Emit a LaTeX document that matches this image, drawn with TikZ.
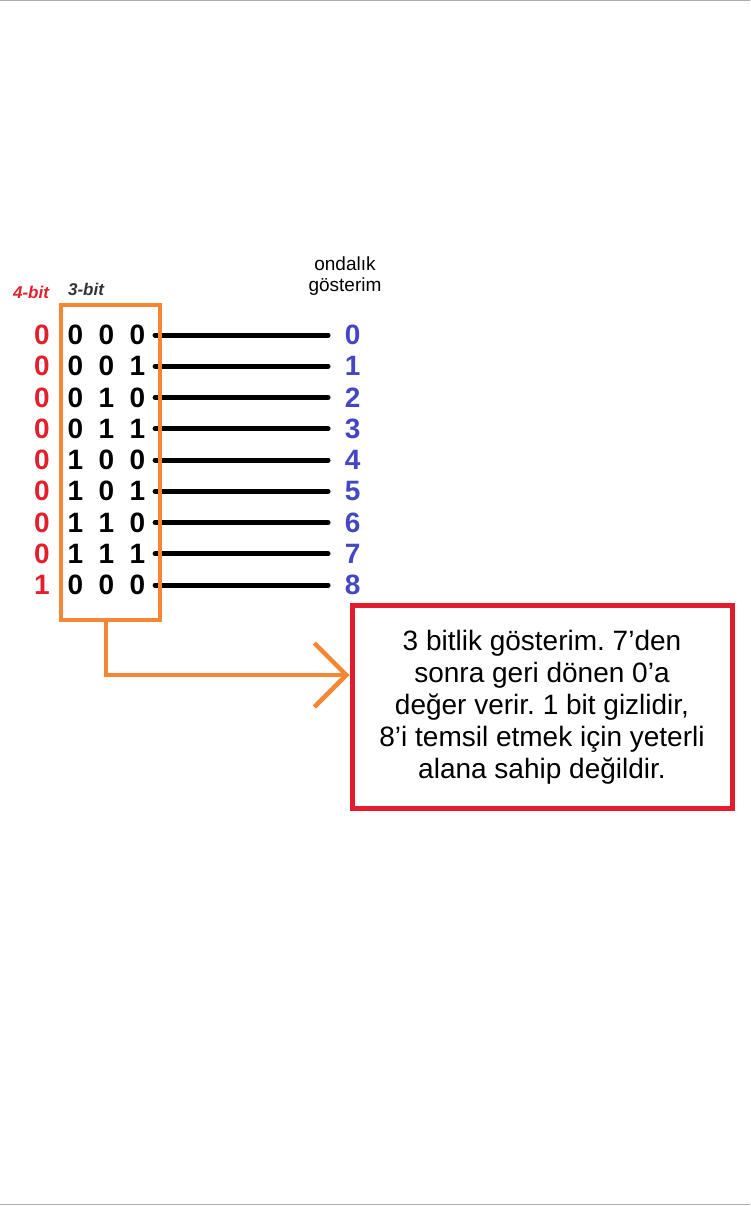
\documentclass[tikz,border=0pt]{standalone}
\usepackage{fontspec}
\setmainfont{Liberation Sans}
\usetikzlibrary{arrows.meta,positioning}

\definecolor{bitred}{RGB}{226,32,44}
\definecolor{decblue}{RGB}{68,70,196}
\definecolor{winorange}{RGB}{245,134,52}
\definecolor{noteedge}{RGB}{226,28,44}
\newcommand{\bits}[3]{\makebox[31pt]{#1}\makebox[31pt]{#2}\makebox[31pt]{#3}}

\begin{document}
\begin{tikzpicture}[x=1pt, y=-1pt,
        msb/.style={text=bitred, font=\fontsize{28}{28}\selectfont\bfseries, inner sep=0pt},
        low/.style={font=\fontsize{28}{28}\selectfont\bfseries, inner sep=0pt},
        dec/.style={text=decblue, font=\fontsize{28}{28}\selectfont\bfseries, inner sep=0pt},
        wire/.style={line width=5pt, line cap=round, shorten <=2pt, shorten >=16.7pt}]
    \useasboundingbox (0,0) rectangle (750,1206);
    \draw[black!33, line width=1.5pt] (0,0.75) -- (750,0.75);
    \draw[black!33, line width=1.5pt] (0,1204.5) -- (750,1204.5);

    \node[text=bitred, font=\fontsize{17}{17}\selectfont\bfseries\itshape]  (w4)   at (31,292)    {4-bit};
    \node[text=black!80, font=\fontsize{17}{17}\selectfont\bfseries\itshape] (w3) at (86,289)   {3-bit};
    \node[align=center, font=\fontsize{19}{21}\selectfont]                (head) at (345,276)   {ondalık\\gösterim};

    \node[msb] (r0) at (42,335)   {0};  \node[low, right=9.7pt of r0] (b0) {\bits000};  \node[dec, right=191.7pt of b0] (d0) {0};
    \node[msb] (r1) at (42,366.25) {0}; \node[low, right=9.7pt of r1] (b1) {\bits001};  \node[dec, right=191.7pt of b1] (d1) {1};
    \node[msb] (r2) at (42,397.5) {0};  \node[low, right=9.7pt of r2] (b2) {\bits010};  \node[dec, right=191.7pt of b2] (d2) {2};
    \node[msb] (r3) at (42,428.75) {0}; \node[low, right=9.7pt of r3] (b3) {\bits011};  \node[dec, right=191.7pt of b3] (d3) {3};
    \node[msb] (r4) at (42,460)   {0};  \node[low, right=9.7pt of r4] (b4) {\bits100};  \node[dec, right=191.7pt of b4] (d4) {4};
    \node[msb] (r5) at (42,491.25) {0}; \node[low, right=9.7pt of r5] (b5) {\bits101};  \node[dec, right=191.7pt of b5] (d5) {5};
    \node[msb] (r6) at (42,522.5) {0};  \node[low, right=9.7pt of r6] (b6) {\bits110};  \node[dec, right=191.7pt of b6] (d6) {6};
    \node[msb] (r7) at (42,553.75) {0}; \node[low, right=9.7pt of r7] (b7) {\bits111};  \node[dec, right=191.7pt of b7] (d7) {7};
    \node[msb] (r8) at (42,585)   {1};  \node[low, right=9.7pt of r8] (b8) {\bits000};  \node[dec, right=191.7pt of b8] (d8) {8};

    \draw[wire] (b0.east) -- (d0.west);
    \draw[wire] (b1.east) -- (d1.west);
    \draw[wire] (b2.east) -- (d2.west);
    \draw[wire] (b3.east) -- (d3.west);
    \draw[wire] (b4.east) -- (d4.west);
    \draw[wire] (b5.east) -- (d5.west);
    \draw[wire] (b6.east) -- (d6.west);
    \draw[wire] (b7.east) -- (d7.west);
    \draw[wire] (b8.east) -- (d8.west);

    \node[draw=winorange, line width=4.5pt, minimum width=99pt, minimum height=315pt, inner sep=0pt] (win) at (110.5,462.5) {};
    \node[draw=noteedge, line width=5pt, minimum width=380pt, minimum height=203pt, align=center,
          font=\fontsize{28}{32}\selectfont\frenchspacing] (note) at (542,707)
          {3 bitlik gösterim. 7’den\\sonra geri dönen 0’a\\değer verir. 1 bit gizlidir,\\8’i temsil etmek için yeterli\\alana sahip değildir.};

    \draw[winorange, line width=4.5pt, -{Straight Barb[length=32pt, width=64pt]}]
        ([xshift=-4.5pt]win.south) |- ([yshift=32pt]note.west);
\end{tikzpicture}
\end{document}
